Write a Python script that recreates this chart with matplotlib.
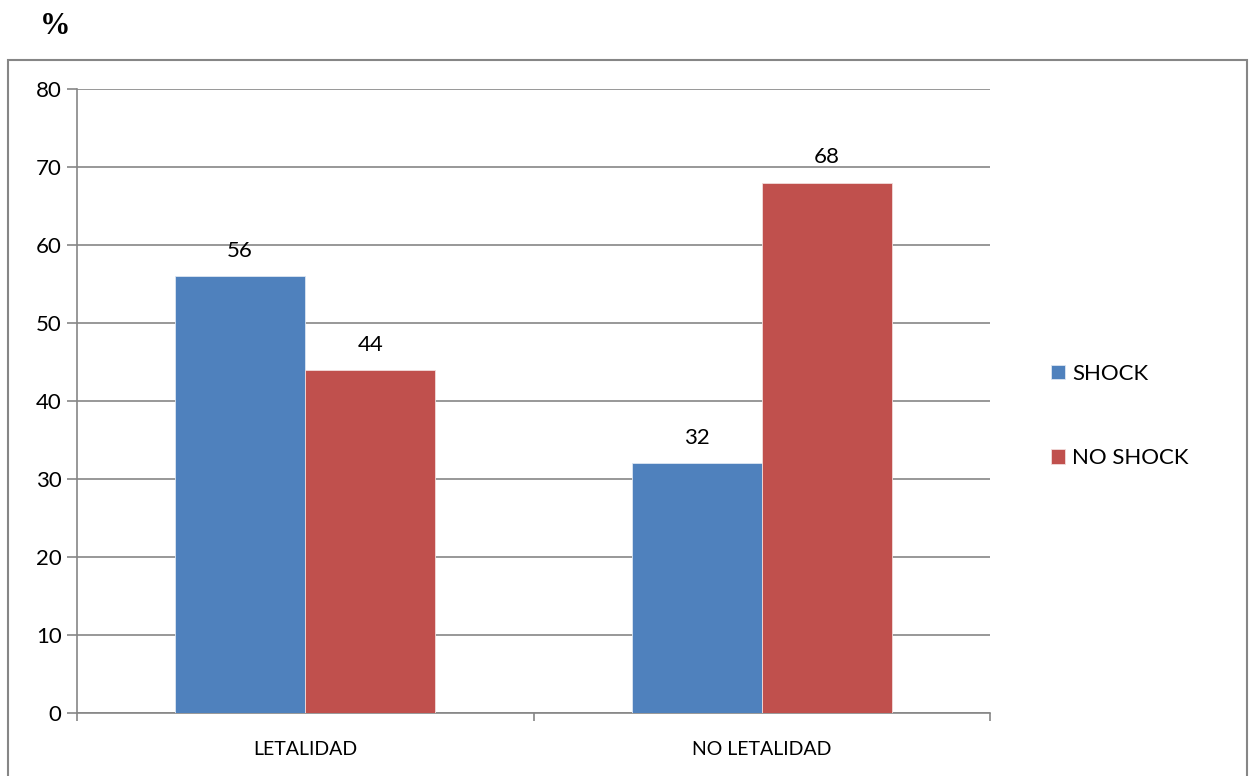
import matplotlib.pyplot as plt
import matplotlib.patches as patches
import numpy as np

categories = ["LETALIDAD", "NO LETALIDAD"]
series_names = ["SHOCK", "NO SHOCK"]
shock = [56, 32]
no_shock = [44, 68]
y_ticks = [0, 10, 20, 30, 40, 50, 60, 70, 80]

plt.rcParams['font.family'] = ['Lato', 'DejaVu Sans']
blue = '#4F81BD'
red = '#C0504D'
grid_gray = '#868686'

fig = plt.figure(figsize=(12.52, 7.76), dpi=100)
ax = fig.add_axes([77 / 1252, 1 - 713 / 776, (990 - 77) / 1252, (713 - 89) / 776])

# marco exterior del grafico
fig.patches.append(patches.Rectangle((8 / 1252, -0.02), (1247 - 8) / 1252, 1 - 60 / 776 + 0.02,
                                     transform=fig.transFigure, fill=False,
                                     edgecolor=grid_gray, linewidth=1.5))
fig.text(40 / 1252, 1 - 26 / 776, '%', fontsize=22, fontweight='bold',
         family=['Liberation Serif', 'DejaVu Serif'], va='center', ha='left')

x = np.arange(len(categories))
w = 0.285
b1 = ax.bar(x - w / 2, shock, w, color=blue, edgecolor='#dce6f2', linewidth=0.6,
            label=series_names[0], zorder=3)
b2 = ax.bar(x + w / 2, no_shock, w, color=red, edgecolor='#f2dcdb', linewidth=0.6,
            label=series_names[1], zorder=3)

for bars in (b1, b2):
    for bar in bars:
        h = bar.get_height()
        ax.annotate(f'{int(h)}', (bar.get_x() + bar.get_width() / 2, h),
                    xytext=(0, 11), textcoords='offset points',
                    ha='center', va='bottom', fontsize=16)

ax.set_xlim(-0.5, 1.5)
ax.set_ylim(0, 80)
ax.set_yticks(y_ticks)
ax.yaxis.grid(True, color=grid_gray, linewidth=1.2, zorder=0)
ax.set_axisbelow(True)

ax.set_xticks(x)
ax.set_xticklabels(categories, fontsize=14)
ax.set_xticks([-0.5, 0.5, 1.5], minor=True)
ax.tick_params(axis='x', which='major', length=0, pad=20)
ax.tick_params(axis='x', which='minor', length=6, width=1.2, color=grid_gray, direction='out')
ax.tick_params(axis='y', length=7, width=1.2, color=grid_gray, direction='out', labelsize=16, pad=4)

for s in ['top', 'right']:
    ax.spines[s].set_visible(False)
for s in ['left', 'bottom']:
    ax.spines[s].set_color(grid_gray)
    ax.spines[s].set_linewidth(1.2)

fig.legend(handles=[b1, b2], labels=series_names, loc='center left',
           bbox_to_anchor=(1031 / 1252, 1 - 416 / 776), frameon=False,
           fontsize=16, handlelength=0.65, handleheight=0.65, handletextpad=0.3,
           labelspacing=2.9)

fig.savefig('out.png', dpi=100)
